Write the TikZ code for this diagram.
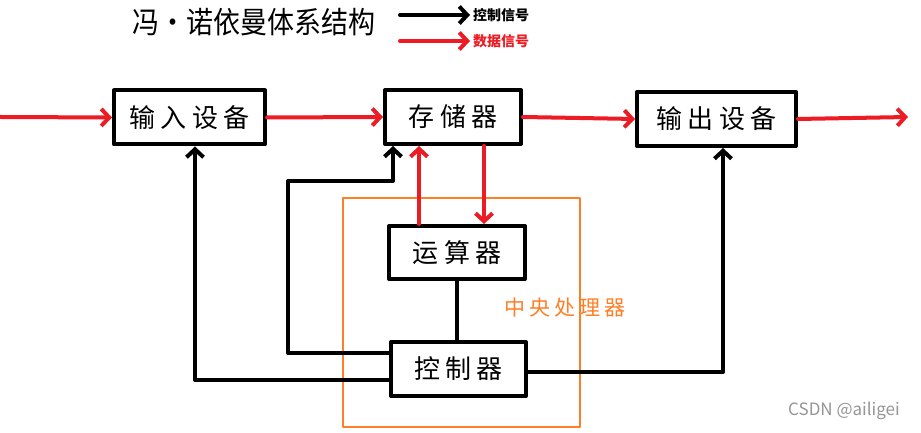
\documentclass[tikz,border=0pt]{standalone}
\usepackage{fontspec}
\newfontfamily\cjk{Noto Sans CJK SC}
\newfontfamily\cjkwide[LetterSpace=20]{Noto Sans CJK SC}
\usetikzlibrary{arrows.meta}
\definecolor{DiagramRed}{RGB}{237,28,36}
\definecolor{DiagramOrange}{RGB}{255,127,39}
\definecolor{DiagramGray}{RGB}{150,150,150}

\begin{document}
\begin{tikzpicture}[x=1bp,y=1bp,line cap=round,line join=round]
  \path[use as bounding box] (0,0) rectangle (921,433);
  \fill[white] (0,0) rectangle (921,433);

  \tikzset{
    unitbox/.style={draw=black,line width=4bp,fill=white,inner sep=0pt,
      minimum height=54bp,font=\cjkwide\fontsize{26bp}{26bp}\selectfont},
    datalink/.style={-{Straight Barb[length=8bp,width=17bp]},line width=4bp,
      DiagramRed},
    ctrllink/.style={-{Straight Barb[length=8bp,width=17bp]},line width=4bp,
      black},
    keytext/.style={anchor=west,inner sep=3bp,
      font=\cjk\bfseries\fontsize{14bp}{14bp}\selectfont},
  }

  % title and legend
  \node[inner sep=0pt,font=\cjk\fontsize{30bp}{30bp}\selectfont]
    (title) at (254,411) {\scalebox{0.9}[1]{冯·诺依曼体系结构}};
  \coordinate (ctlstart) at (400,418);
  \coordinate (datstart) at (400,392);
  \node[keytext] (ctlkey) at (470,418) {控制信号};
  \node[keytext,text=DiagramRed] (datkey) at (470,392) {数据信号};
  \draw[ctrllink] (ctlstart) -- (ctlkey.west);
  \draw[datalink] (datstart) -- (datkey.west);

  % CPU frame
  \draw[DiagramOrange,line width=2.5bp] (343,6) rectangle (580,235);
  \node[inner sep=0pt,text=DiagramOrange,
    font=\cjkwide\fontsize{21bp}{21bp}\selectfont]
    (cpulabel) at (565,125) {中央处理器};

  % units
  \node[unitbox,minimum width=151bp] (in) at (189.5,315.5) {输入设备};
  \node[unitbox,minimum width=136bp] (mem) at (453,316) {存储器};
  \node[unitbox,minimum width=159bp] (out) at (716.5,314) {输出设备};
  \node[unitbox,minimum width=136bp,minimum height=53bp] (alu) at (457,180.5) {运算器};
  \node[unitbox,minimum width=135bp] (ctrl) at (458.5,64) {控制器};

  % data flow
  \coordinate (src) at (0,316);
  \coordinate (dst) at (908,316);
  \draw[datalink] (src) -- (in.west);
  \draw[datalink] (in.east) -- (mem.west);
  \draw[datalink] (mem.east) -- (out.west);
  \draw[datalink] (out.east) -- (dst);
  \draw[datalink] ([xshift=-38bp]alu.north) -- ([xshift=-38bp]alu.north |- mem.south);
  \draw[datalink] ([xshift=27bp]alu.north |- mem.south) -- ([xshift=27bp]alu.north);

  % control flow
  \coordinate (bend) at (288,252);
  \draw[ctrllink] ([yshift=-11bp]ctrl.west) -| ([xshift=5.5bp]in.south);
  \draw[ctrllink] ([yshift=16bp]ctrl.west) -| (bend) -| ([xshift=-60bp]mem.south);
  \draw[ctrllink] ([yshift=-3bp]ctrl.east) -| ([xshift=6.5bp]out.south);
  \draw[line width=4bp] (alu.south) -- (alu.south |- ctrl.north);

  \node[inner sep=0pt,text=DiagramGray,font=\cjk\fontsize{17bp}{17bp}\selectfont]
    (mark) at (844,22) {CSDN @ailigei};
\end{tikzpicture}
\end{document}
